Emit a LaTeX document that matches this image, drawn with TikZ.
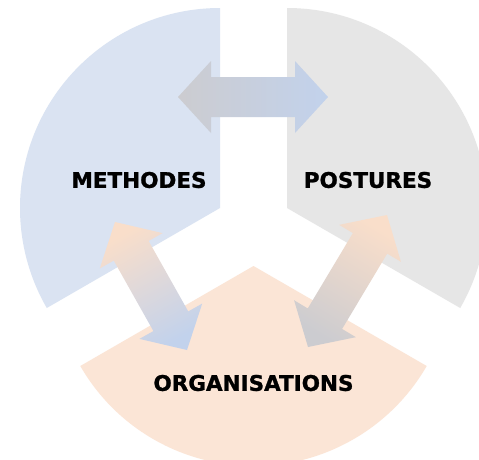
\documentclass[tikz,border=0pt]{standalone}
\usepackage{fontspec}
\setmainfont{DejaVu Sans}
\newfontfamily\labelfont{DejaVu Sans Bold}[FakeBold=1.2]
\usepackage{tikz}
\usetikzlibrary{calc}
\definecolor{secblue}{RGB}{218, 227, 242}
\definecolor{secgray}{RGB}{230, 230, 230}
\definecolor{secpeach}{RGB}{251, 229, 214}
\definecolor{arrblue}{RGB}{194, 210, 236}
\definecolor{arrgray}{RGB}{204, 204, 208}
\definecolor{arrpeach}{RGB}{249, 222, 202}
\tikzset{
  label/.style={font=\labelfont\fontsize{21.5}{25}\selectfont, text=black, inner sep=0pt},
  dblarrow/.style={to path={
    -- ($(\tikztostart)!33pt!(\tikztotarget)!36pt!90:(\tikztotarget)$)
    -- ($(\tikztostart)!33pt!(\tikztotarget)!20pt!90:(\tikztotarget)$)
    -- ($(\tikztotarget)!33pt!(\tikztostart)!20pt!-90:(\tikztostart)$)
    -- ($(\tikztotarget)!33pt!(\tikztostart)!36pt!-90:(\tikztostart)$)
    -- (\tikztotarget)
    -- ($(\tikztotarget)!33pt!(\tikztostart)!36pt!90:(\tikztostart)$)
    -- ($(\tikztotarget)!33pt!(\tikztostart)!20pt!90:(\tikztostart)$)
    -- ($(\tikztostart)!33pt!(\tikztotarget)!20pt!-90:(\tikztotarget)$)
    -- ($(\tikztostart)!33pt!(\tikztotarget)!36pt!-90:(\tikztotarget)$)
    -- cycle}}
}
\begin{document}
\begin{tikzpicture}[x=1pt, y=1pt]
  \useasboundingbox[fill=white] (0,0) rectangle (479,-459);

  % Methodes sector
  \fill[secblue] (220,-208) -- ++(90:200) arc[start angle=90, end angle=210, radius=200] -- cycle;
  % Postures sector
  \fill[secgray] (287,-208) -- ++(90:200) arc[start angle=90, end angle=-30, radius=200] -- cycle;
  % Organisations sector
  \fill[secpeach] (253.5,-266) -- ++(210:200) arc[start angle=210, end angle=330, radius=200] -- cycle;

  % arrow ends
  \coordinate (mp) at (178,-97);
  \coordinate (pm) at (328,-97);
  \coordinate (mo) at (115,-222);
  \coordinate (om) at (187,-350);
  \coordinate (po) at (387,-215);
  \coordinate (op) at (308,-347);

  % arrows
  \path[dblarrow, left color=arrgray, right color=arrblue] (mp) to (pm);
  \path[dblarrow, top color=arrpeach, bottom color=arrblue, shading angle=29] (mo) to (om);
  \path[dblarrow, top color=arrpeach, bottom color=arrgray, shading angle=-31] (po) to (op);

  % labels
  \node[label] (methodes) at (139,-180) {METHODES};
  \node[label] (postures) at (368,-180) {POSTURES};
  \node[label] (organisations) at (253.5,-383) {ORGANISATIONS};
\end{tikzpicture}
\end{document}
